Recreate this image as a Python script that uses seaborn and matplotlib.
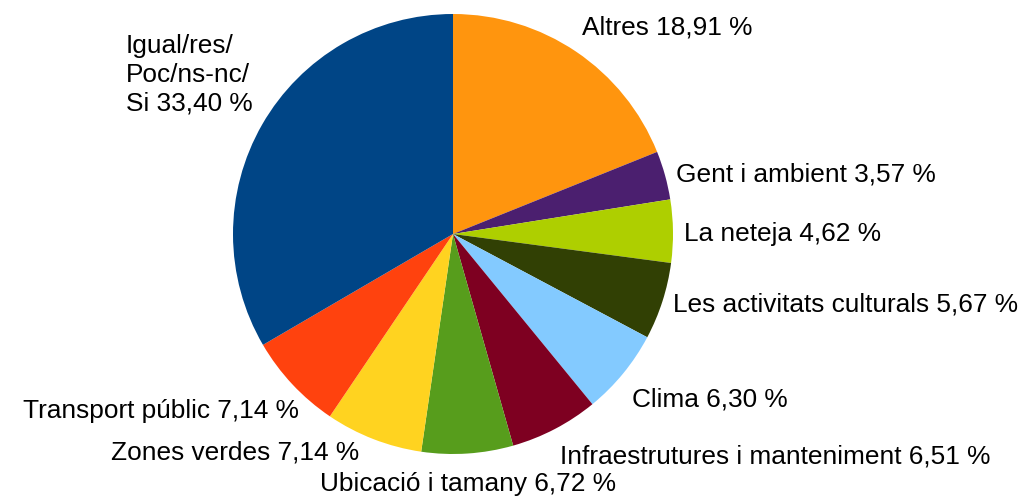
import numpy as np
import matplotlib
matplotlib.use("Agg")
import matplotlib.pyplot as plt
import seaborn as sns

categories = ["Altres", "Gent i ambient", "La neteja", "Les activitats culturals",
              "Clima", "Infraestrutures i manteniment", "Ubicació i tamany",
              "Zones verdes", "Transport públic", "Igual/res/\nPoc/ns-nc/\nSi"]
values = [18.91, 3.57, 4.62, 5.67, 6.30, 6.51, 6.72, 7.14, 7.14, 33.40]
colors = ["#ff950e", "#4b1f6f", "#aecf00", "#314004", "#83caff",
          "#7e0021", "#579d1c", "#ffd320", "#ff420e", "#004586"]

# label nudges in pixels (dx, dy screen-down) and vertical alignment overrides
label_nudge = {"Clima": (0, 7), "Infraestrutures i manteniment": (0, 6),
               "Ubicació i tamany": (0, 8), "Zones verdes": (-10, 3),
               "Transport públic": (14, 7), "La neteja": (0, 3), "Gent i ambient": (0, 2),
               "Altres": (0, -3), "Igual/res/\nPoc/ns-nc/\nSi": (0, -3)}
va_override = {"Zones verdes": "center"}

sns.set_theme(style="white")
plt.rcParams["font.family"] = ["Liberation Sans", "DejaVu Sans"]

W, H = 1022, 496
fig = plt.figure(figsize=(W / 100, H / 100), dpi=100)
cx, cy, r = 453, 234, 220
ax = fig.add_axes([(cx - r) / W, (H - cy - r) / H, 2 * r / W, 2 * r / H])

palette = sns.color_palette(colors)
wedges, _ = ax.pie(values, colors=palette, startangle=90, counterclock=False,
                   radius=1, wedgeprops=dict(linewidth=0))
ax.set_xlim(-1, 1)
ax.set_ylim(-1, 1)
ax.set_aspect("equal")
ax.axis("off")

def fmt(v):
    return f"{v:.2f}".replace(".", ",") + " %"

for w, cat, v in zip(wedges, categories, values):
    ang = np.deg2rad((w.theta1 + w.theta2) / 2)
    c, s = np.cos(ang), np.sin(ang)
    x, y = 1.05 * c, 1.05 * s
    ha = "left" if c > 0.1 else ("right" if c < -0.1 else "center")
    va = "bottom" if s > 0.45 else ("top" if s < -0.5 else "center")
    va = va_override.get(cat, va)
    dx, dy = label_nudge.get(cat, (0, 0))
    ax.annotate(f"{cat} {fmt(v)}", xy=(x, y), xytext=(dx, -dy),
                textcoords="offset pixels", ha=ha, va=va, fontsize=18.9,
                color="#000000", multialignment="left", linespacing=1.25,
                annotation_clip=False)

fig.savefig("out.png", dpi=100, facecolor="white")
